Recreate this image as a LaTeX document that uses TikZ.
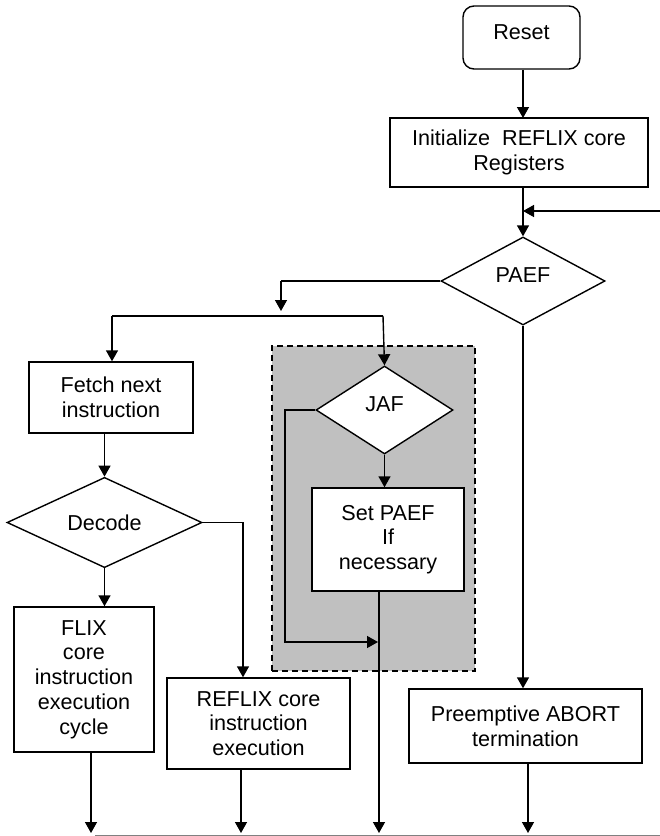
\documentclass[tikz,border=0pt]{standalone}
\usepackage{fontspec}
\setmainfont{Liberation Sans}
\usetikzlibrary{arrows.meta,shapes.geometric}
\begin{document}
\begin{tikzpicture}[x=1bp,y=-1bp,
  line width=1.4bp,
  arr/.style={-{Triangle[length=11bp,width=12bp]}},
  txt/.style={font=\fontsize{21.6bp}{24.8bp}\selectfont, align=center, inner sep=0pt},
  box/.style={txt, draw, fill=white},
  dia/.style={txt, draw, fill=white, shape=diamond},
  raise/.style={text depth=#1},
  grp/.style={draw, dashed, dash pattern=on 6bp off 4bp, line width=1.6bp, fill={rgb,255:red,192;green,192;blue,192}, inner sep=0pt}
]
\useasboundingbox (0,0) rectangle (660,836);
% gray region
\node[grp, minimum width=203bp, minimum height=325bp] (region) at (373.5,508.5) {};
% nodes
\node[box, raise=10bp, rounded corners=11bp, minimum width=117bp, minimum height=63bp] (reset) at (521.5,37.5) {Reset};
\node[box, minimum width=258bp, minimum height=69bp] (init) at (519,152.5) {Initialize\ \ REFLIX core\\Registers};
\node[dia, raise=12bp, minimum width=164bp, minimum height=88bp] (paef) at (523,281) {PAEF};
\node[box, minimum width=164bp, minimum height=71bp] (fetch) at (111,397.5) {Fetch next\\instruction};
\node[dia, minimum width=195bp, minimum height=89bp] (decode) at (104.5,522.5) {Decode};
\node[box, minimum width=140bp, minimum height=145bp] (flix) at (84,679.5) {FLIX\\core\\instruction\\execution\\cycle};
\node[box, minimum width=183bp, minimum height=91bp] (reflix) at (258.5,723.5) {REFLIX core\\instruction\\execution};
\node[dia, raise=12bp, minimum width=137bp, minimum height=88bp] (jaf) at (384.5,410) {JAF};
\node[box, minimum width=152bp, minimum height=103bp] (setpaef) at (388,539.5) {Set PAEF\\If\\necessary};
\node[box, minimum width=233bp, minimum height=74bp] (abort) at (525.5,726) {Preemptive ABORT\\termination};
% coordinates
\coordinate (loopin) at (660,211);
\coordinate (pl) at (281,281);
\coordinate (plend) at (281,311);
\coordinate (sl) at (112,316);
\coordinate (sr) at (383,316);
\coordinate (dr) at (243,522.5);
\coordinate (jl) at (285,410);
\coordinate (jb) at (285,642);
\coordinate (jend) at (378,642);
\coordinate (bl) at (95,835);
\coordinate (br) at (660,835);
% connectors
\draw[arr] (reset.south -| 523,0) -- (523,118);
\draw[arr] (init.south -| paef.north) -- (paef.north);
\draw[arr] (loopin) -- (loopin -| paef.north);
\draw (paef.west) -- (pl);
\draw[arr] (pl) -- (plend);
\draw (sl) -- (sr);
\draw[arr] (sl) -- (sl |- fetch.north);
\draw[arr] (sr) -- (jaf.north);
\draw[arr] (fetch.south -| decode.north) -- (decode.north);
\draw[arr] (decode.south) -- (decode.south |- flix.north);
\draw[arr] (decode.east) -- (dr) -- (dr |- reflix.north);
\draw[arr] (jaf.south) -- (jaf.south |- setpaef.north);
\draw[arr] (jaf.west) -- (jl) -- (jb) -- (jend);
\draw[arr] (paef.south) -- (paef.south |- abort.north);
\draw[arr] (setpaef.south -| 379,0) -- (379,833);
\draw[arr] (flix.south -| 91,0) -- (91,833);
\draw[arr] (reflix.south -| 241,0) -- (241,833);
\draw[arr] (abort.south -| 528,0) -- (528,833);
\draw[line width=1bp, gray] (bl) -- (br);
\end{tikzpicture}
\end{document}
